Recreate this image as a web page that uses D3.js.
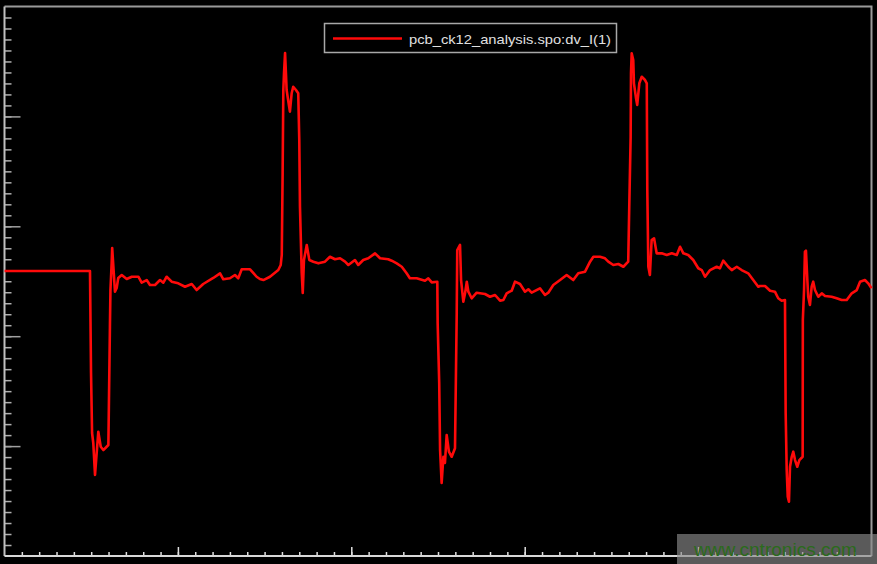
<!DOCTYPE html>
<html>
<head>
<meta charset="utf-8">
<script src="https://cdn.jsdelivr.net/npm/d3@7"></script>
<style>
  html, body { margin: 0; padding: 0; background: #000; }
  svg { display: block; }
</style>
</head>
<body>
<svg id="chart" width="877" height="564"></svg>
<script>
// ---- data (time in ns, voltage in V) ----
const seriesName = "pcb_ck12_analysis.spo:dv_I(1)";
const timeNs = [
  0, 4.93, 4.99, 5.05, 5.12, 5.22, 5.41, 5.55, 5.70, 5.89, 5.99, 6.08, 6.11, 6.18, 6.21, 6.37, 6.47, 6.56, 6.76, 7.05,
  7.34, 7.72, 7.91, 8.20, 8.39, 8.68, 8.97, 9.16, 9.35, 9.64, 10.02, 10.41, 10.80, 11.08, 11.46, 12.04, 12.43, 12.62, 13.00, 13.29,
  13.48, 13.68, 14.16, 14.54, 14.73, 14.93, 15.31, 15.79, 15.93, 15.99, 16.04, 16.08, 16.12, 16.18, 16.23, 16.27, 16.37, 16.46, 16.56, 16.65,
  16.81, 16.94, 17.00, 17.04, 17.14, 17.20, 17.27, 17.43, 17.58, 17.81, 18.10, 18.48, 18.77, 19.06, 19.35, 19.64, 19.83, 20.21, 20.40, 20.69,
  20.98, 21.37, 21.66, 22.13, 22.33, 22.62, 22.91, 23.19, 23.38, 23.77, 24.25, 24.44, 24.64, 24.96, 24.98, 25.07, 25.12, 25.21, 25.31, 25.40,
  25.50, 25.63, 25.79, 25.98, 26.08, 26.11, 26.27, 26.33, 26.46, 26.56, 26.66, 26.75, 26.94, 27.23, 27.71, 28.00, 28.29, 28.58, 28.77, 28.96,
  29.25, 29.44, 29.73, 30.02, 30.21, 30.40, 30.88, 31.17, 31.36, 31.65, 32.04, 32.42, 32.80, 33.09, 33.48, 33.77, 33.96, 34.34, 34.63, 34.82,
  35.11, 35.40, 35.69, 35.97, 36.03, 36.11, 36.13, 36.17, 36.26, 36.30, 36.42, 36.49, 36.61, 36.75, 36.94, 37.04, 37.07, 37.13, 37.22, 37.32,
  37.46, 37.61, 37.90, 38.19, 38.48, 38.77, 38.96, 39.15, 39.43, 39.72, 40.01, 40.21, 40.40, 40.69, 41.07, 41.26, 41.45, 41.74, 41.94, 42.23,
  42.51, 42.89, 43.18, 43.47, 43.57, 43.86, 44.15, 44.43, 44.62, 44.82, 45.01, 45.05, 45.11, 45.17, 45.24, 45.30, 45.40, 45.49, 45.59, 45.72,
  45.84, 46.03, 46.04, 46.11, 46.16, 46.22, 46.30, 46.35, 46.45, 46.55, 46.64, 46.74, 46.93, 47.13, 47.32, 47.70, 47.99, 48.28, 48.57, 48.86,
  49.15, 49.34, 49.62, 49.81, 50.0
];
const voltageV = [
  0.093, 0.093, -0.835, -1.381, -1.472, -1.763, -1.369, -1.506, -1.536, -1.506, -1.490, -0.414, -0.080, 0.166, 0.303, -0.095, -0.061, 0.030, 0.057, 0.020,
  0.041, 0.041, -0.013, 0.011, -0.034, -0.034, 0.011, -0.013, 0.041, -0.004, -0.019, -0.050, -0.025, -0.080, -0.025, 0.030, 0.072, 0.018, 0.027, 0.057,
  0.027, 0.109, 0.109, 0.041, 0.020, 0.011, 0.041, 0.102, 0.148, 0.239, 0.985, 1.740, 1.895, 2.077, 1.895, 1.740, 1.634, 1.543, 1.710, 1.770,
  1.740, 1.710, 1.285, 0.678, 0.075, -0.107, 0.193, 0.330, 0.193, 0.178, 0.163, 0.178, 0.223, 0.200, 0.209, 0.178, 0.148, 0.193, 0.148, 0.193,
  0.209, 0.254, 0.209, 0.200, 0.187, 0.163, 0.132, 0.072, 0.027, 0.027, 0.005, 0.027, -0.010, -0.004, -0.380, -0.926, -1.536, -1.836, -1.597, -1.654,
  -1.399, -1.551, -1.597, -1.520, -0.289, 0.284, 0.330, 0.011, -0.186, -0.110, -0.004, -0.095, -0.155, -0.104, -0.116, -0.141, -0.125, -0.177, -0.171, -0.110,
  -0.086, -0.004, -0.025, -0.095, -0.073, -0.104, -0.064, -0.125, -0.104, -0.034, 0.011, 0.057, 0.011, 0.072, 0.087, 0.178, 0.223, 0.223, 0.209, 0.178,
  0.148, 0.157, 0.132, 0.178, 0.678, 1.315, 1.892, 2.074, 2.013, 1.801, 1.665, 1.604, 1.801, 1.861, 1.831, 1.801, 0.830, 0.132, 0.057, 0.375,
  0.391, 0.254, 0.254, 0.239, 0.254, 0.239, 0.314, 0.254, 0.239, 0.193, 0.118, 0.102, 0.041, 0.102, 0.132, 0.118, 0.187, 0.132, 0.102, 0.132,
  0.102, 0.072, 0.011, -0.050, -0.043, -0.043, -0.086, -0.095, -0.155, -0.177, -0.171, -1.199, -1.718, -1.961, -2.006, -1.688, -1.597, -1.551, -1.627, -1.688,
  -1.627, -1.597, -0.353, -0.080, 0.269, 0.278, 0.011, -0.141, -0.216, -0.050, -0.004, -0.080, -0.141, -0.110, -0.134, -0.141, -0.155, -0.171, -0.171, -0.110,
  -0.080, -0.004, 0.011, -0.019, -0.064
];
const xMajorTicks = [0, 10, 20, 30, 40, 50];
const yMajorTicks = [-1.5, -0.5, 0.5, 1.5];
const xMinorTicks = d3.range(1, 50, 1);
const yMinorTicks = d3.range(-24, 25, 1).map(d => d / 10);
const watermark = "www.cntronics.com";

// ---- layout ----
const W = 877, H = 564;
const plot = { left: 4.5, right: 871.5, top: 6.5, bottom: 556 };

const svg = d3.select("#chart");
svg.append("rect").attr("width", W).attr("height", H).attr("fill", "#000");

const x = d3.scaleLinear().domain([0, 50]).range([plot.left, plot.right]);
const y = d3.scaleLinear().domain([-2.5, 2.5]).range([plot.bottom, plot.top]);

// frame (top and right)
svg.append("path")
  .attr("d", `M${plot.left},${plot.top}H${plot.right}V${plot.bottom}`)
  .attr("fill", "none").attr("stroke", "#9a9a9a").attr("stroke-width", 2);

// axes (ticks point inward, no labels)
function styleAxis(g, color, width) {
  g.select(".domain").remove();
  g.selectAll(".tick line").attr("stroke", color).attr("stroke-width", width);
  g.selectAll(".tick text").remove();
}
svg.append("g").attr("transform", `translate(${plot.left},0)`)
  .call(d3.axisLeft(y).tickValues(yMinorTicks).tickSize(-7).tickFormat(""))
  .call(g => styleAxis(g, "#b0b0b0", 1.5));
svg.append("g").attr("transform", `translate(${plot.left},0)`)
  .call(d3.axisLeft(y).tickValues(yMajorTicks).tickSize(-16).tickFormat(""))
  .call(g => styleAxis(g, "#a0a0a0", 1.5));
svg.append("g").attr("transform", `translate(0,${plot.bottom})`)
  .call(d3.axisBottom(x).tickValues(xMinorTicks).tickSize(-4).tickFormat(""))
  .call(g => styleAxis(g, "#e0e0e0", 1.5));
svg.append("g").attr("transform", `translate(0,${plot.bottom})`)
  .call(d3.axisBottom(x).tickValues(xMajorTicks.slice(1, -1)).tickSize(-9).tickFormat(""))
  .call(g => styleAxis(g, "#e0e0e0", 1.5));

// axis lines
svg.append("line").attr("x1", plot.left).attr("x2", plot.left).attr("y1", plot.top).attr("y2", plot.bottom)
  .attr("stroke", "#c0c0c0").attr("stroke-width", 2);
svg.append("line").attr("x1", plot.left).attr("x2", plot.right).attr("y1", plot.bottom).attr("y2", plot.bottom)
  .attr("stroke", "#d8d8d8").attr("stroke-width", 2);

// waveform
const pts = timeNs.map((t, i) => [t, voltageV[i]]);
const line = d3.line().x(d => x(d[0])).y(d => y(d[1]));
svg.append("path").datum(pts)
  .attr("d", line)
  .attr("fill", "none").attr("stroke", "#ff0a0a").attr("stroke-width", 2.6)
  .attr("stroke-linejoin", "round");

// legend
const lg = svg.append("g");
lg.append("rect").attr("x", 324.5).attr("y", 23.5).attr("width", 292).attr("height", 29)
  .attr("fill", "#000").attr("stroke", "#a8a8a8").attr("stroke-width", 1.5);
lg.append("line").attr("x1", 333).attr("x2", 402).attr("y1", 38.5).attr("y2", 38.5)
  .attr("stroke", "#ff0a0a").attr("stroke-width", 2.4);
lg.append("text").attr("x", 409).attr("y", 43.5)
  .attr("font-family", "Liberation Sans, Arial, sans-serif").attr("font-size", 13)
  .attr("textLength", 202).attr("lengthAdjust", "spacingAndGlyphs")
  .attr("fill", "#e0e0e0").text(seriesName);

// watermark
svg.append("rect").attr("x", 677).attr("y", 534).attr("width", 200).attr("height", 30)
  .attr("fill", "#8a8a8a").attr("fill-opacity", 0.65);
svg.append("text").attr("x", 694).attr("y", 556)
  .attr("font-family", "Liberation Sans, Arial, sans-serif").attr("font-size", 19)
  .attr("textLength", 163).attr("lengthAdjust", "spacingAndGlyphs")
  .attr("fill", "#2b6a1c").text(watermark);
</script>
</body>
</html>
